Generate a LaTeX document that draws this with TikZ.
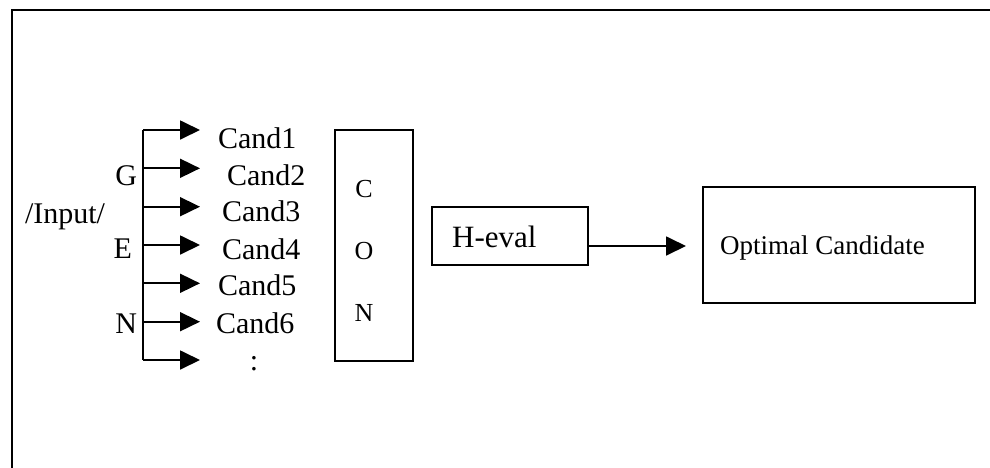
\documentclass[tikz,border=0pt]{standalone}
\usepackage{fontspec}
\setmainfont{Liberation Serif}
\usetikzlibrary{arrows.meta}
\begin{document}
\begin{tikzpicture}[x=1pt,y=-1pt,
  lbl/.style={inner sep=0pt, outer sep=0pt, font=\fontsize{30}{36}\selectfont},
  conl/.style={inner sep=0pt, outer sep=0pt, anchor=base, font=\fontsize{26}{30}\selectfont},
  boxn/.style={draw, line width=1.8pt, inner sep=0pt, outer sep=0pt},
  wire/.style={line width=1.8pt},
  arr/.style={line width=1.8pt, -{Triangle[length=20pt,width=19pt]}},
  framel/.style={line width=2.5pt}]
\useasboundingbox (0,0) rectangle (990,467);
% outer frame
\coordinate (fbl) at (12,470);
\coordinate (ftl) at (12,10);
\coordinate (ftr) at (992,10);
\draw[framel] (fbl) -- (ftl) -- (ftr);
% bus and branches
\foreach \i/\y in {1/130,2/168.3,3/206.7,4/245,5/283.3,6/321.7,7/360}{
  \coordinate (b\i) at (143,\y);
  \coordinate (t\i) at (200,\y);
  \draw[arr] (b\i) -- (t\i);
}
\draw[wire] (b1) -- (b7);
% candidate labels
\node[lbl, anchor=base west] (c1) at (218,148) {Cand1};
\node[lbl, anchor=base west] (c2) at (227,185) {Cand2};
\node[lbl, anchor=base west] (c3) at (222,221) {Cand3};
\node[lbl, anchor=base west] (c4) at (222,259) {Cand4};
\node[lbl, anchor=base west] (c5) at (218,295) {Cand5};
\node[lbl, anchor=base west] (c6) at (216,333) {Cand6};
\node[lbl, anchor=base] (c7) at (254,370) {:};
% left labels
\node[lbl, anchor=base east] (g) at (137,185) {G};
\node[lbl, anchor=base east] (e) at (132,258) {E};
\node[lbl, anchor=base east] (n) at (137,333) {N};
\node[lbl, anchor=base west] (inp) at (25,223) {/Input/};
% CON box
\node[boxn, minimum width=78pt, minimum height=231pt] (con) at (374,245.5) {};
\node[conl] (conc) at (364,197) {C};
\node[conl] (cono) at (364,259) {O};
\node[conl] (conn) at (364,321) {N};
% H-eval box
\node[boxn, minimum width=156pt, minimum height=58pt] (heval) at (510,236) {};
\node[inner sep=0pt, anchor=base west, font=\fontsize{31}{36}\selectfont] (hevt) at (452,247) {H-eval};
% Optimal box
\node[boxn, minimum width=272pt, minimum height=116pt] (opt) at (839,245) {};
\node[inner sep=0pt, anchor=base west, font=\fontsize{27}{32}\selectfont] (optt) at (720,254) {Optimal Candidate};
% arrow H-eval -> Optimal
\coordinate (hout) at (heval.east |- 0,246);
\coordinate (hin) at (686,246);
\draw[arr] (hout) -- (hin);
\end{tikzpicture}
\end{document}
